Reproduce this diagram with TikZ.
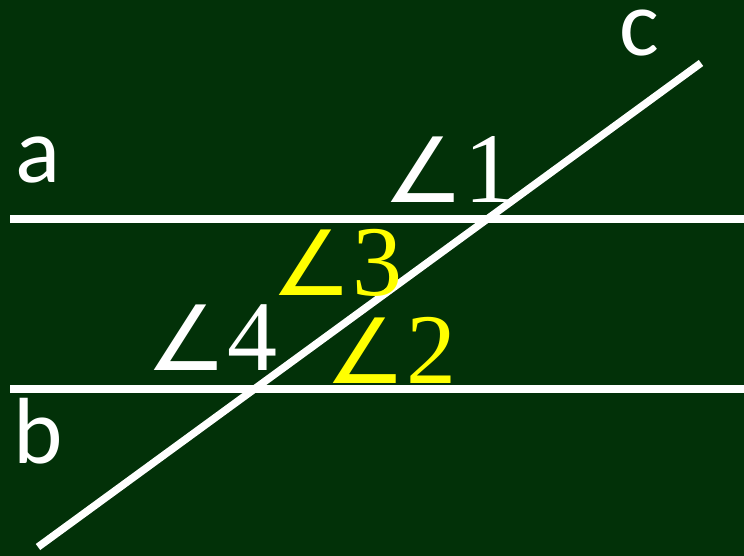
\RequirePackage{fix-cm}
\documentclass[tikz,border=0pt]{standalone}
\usepackage{fontspec}
\newfontfamily\linefont{Carlito}
\newfontfamily\angfont{DejaVu Sans}
\newfontfamily\numfont{Liberation Serif}
\definecolor{board}{RGB}{2,49,8}
\definecolor{marker}{RGB}{255,255,0}
\newcommand{\angmark}[1]{{\fontsize{90}{90}\angfont ∠}{\numfont #1}}
\tikzset{
  lbl/.style={inner sep=0pt, anchor=base west, white, font=\fontsize{94}{94}\linefont},
  angle lbl/.style={inner sep=0pt, anchor=base west, font=\fontsize{100}{100}\selectfont},
}
\begin{document}
\begin{tikzpicture}[x=1pt, y=-1pt, line width=7.5pt]
  \fill[board] (0,0) rectangle (744,556);
  \useasboundingbox (0,0) rectangle (744,556);
  \coordinate (a0) at (10,219);  \coordinate (a1) at (744,219);
  \coordinate (b0) at (10,389);  \coordinate (b1) at (744,389);
  \coordinate (c0) at (38,547);  \coordinate (c1) at (701,63);
  \draw[white] (a0) -- (a1);
  \draw[white] (b0) -- (b1);
  \draw[white] (c0) -- (c1);
  \node[lbl] (la) at (12,183) {a};
  \node[lbl] (lb) at (10,463) {b};
  \node[lbl, text height=46pt] (lc) at (616,56) {c};
  \node[angle lbl, white]  (a1lbl) at (380,203) {\angmark{1}};
  \node[angle lbl, marker] (a3lbl) at (268,295) {\angmark{3}};
  \node[angle lbl, white]  (a4lbl) at (143,370) {\angmark{4}};
  \node[angle lbl, marker] (a2lbl) at (322,383) {\angmark{2}};
\end{tikzpicture}
\end{document}
